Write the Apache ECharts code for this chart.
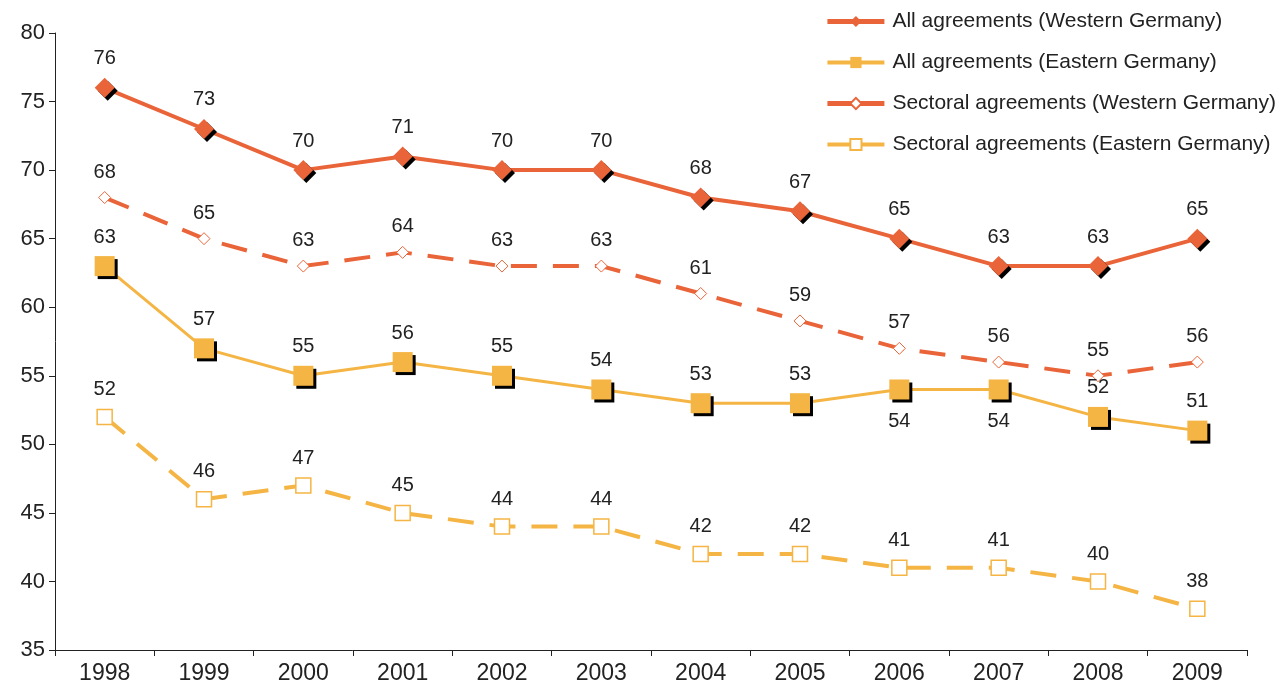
<!DOCTYPE html>
<html>
<head>
<meta charset="utf-8">
<script src="https://cdn.jsdelivr.net/npm/echarts@6/dist/echarts.min.js"></script>
<style>
  html, body { margin: 0; padding: 0; background: #fff; }
  #chart { width: 1287px; height: 691px; }
</style>
</head>
<body>
<div id="chart"></div>
<script>
// Collective agreement coverage, share of employees (%)
const years = ['1998', '1999', '2000', '2001', '2002', '2003', '2004', '2005', '2006', '2007', '2008', '2009'];
const allWest = [76, 73, 70, 71, 70, 70, 68, 67, 65, 63, 63, 65];
const allEast = [63, 57, 55, 56, 55, 54, 53, 53, 54, 54, 52, 51];
const sectWest = [68, 65, 63, 64, 63, 63, 61, 59, 57, 56, 55, 56];
const sectEast = [52, 46, 47, 45, 44, 44, 42, 42, 41, 41, 40, 38];
// years whose "All agreements (Eastern Germany)" label sits below the marker
const eastLabelBelow = ['2006', '2007'];

const ORANGE = '#EA6439';
const YELLOW = '#F5B544';
const FONT = 'Liberation Sans, Arial, sans-serif';

const labelBase = {
  show: true,
  position: 'top',
  distance: 9,
  fontSize: 20,
  fontFamily: FONT,
  color: '#222'
};
const markerShadow = { shadowColor: '#000', shadowBlur: 0, shadowOffsetX: 3, shadowOffsetY: 3 };

const chart = echarts.init(document.getElementById('chart'));
chart.setOption({
  animation: false,
  grid: { left: 55, right: 40, top: 33, bottom: 41 },
  legend: {
    orient: 'vertical',
    right: 6,
    top: 6,
    itemGap: 20,
    itemWidth: 57,
    itemHeight: 14,
    textStyle: { fontSize: 21, fontFamily: FONT, color: '#222', padding: [0, 0, 0, 3] },
    data: [
      { name: 'All agreements (Western Germany)', lineStyle: { width: 5 } },
      { name: 'All agreements (Eastern Germany)', lineStyle: { width: 4 } },
      { name: 'Sectoral agreements (Western Germany)', lineStyle: { width: 5, type: 'solid' } },
      { name: 'Sectoral agreements (Eastern Germany)', lineStyle: { width: 4, type: 'solid' } }
    ]
  },
  xAxis: {
    type: 'category',
    data: years,
    boundaryGap: true,
    axisLine: { lineStyle: { color: '#222', width: 1 } },
    axisTick: { show: true, alignWithLabel: false, length: 6, lineStyle: { color: '#222' } },
    axisLabel: { fontSize: 23, fontFamily: FONT, color: '#222', margin: 12 }
  },
  yAxis: {
    type: 'value',
    min: 35,
    max: 80,
    interval: 5,
    splitLine: { show: false },
    axisLine: { show: true, lineStyle: { color: '#222', width: 1 } },
    axisTick: { show: true, length: 6, lineStyle: { color: '#222' } },
    axisLabel: { fontSize: 22, fontFamily: FONT, color: '#222', margin: 10 }
  },
  series: [
    {
      name: 'Sectoral agreements (Eastern Germany)',
      type: 'line',
      data: sectEast,
      symbol: 'rect',
      symbolSize: 15,
      showAllSymbol: true,
      itemStyle: { color: '#fff', borderColor: YELLOW, borderWidth: 1.5 },
      lineStyle: { color: YELLOW, width: 4, type: [26, 16] },
      label: labelBase,
      z: 2
    },
    {
      name: 'Sectoral agreements (Western Germany)',
      type: 'line',
      data: sectWest,
      symbol: 'diamond',
      symbolSize: 12,
      showAllSymbol: true,
      itemStyle: { color: '#fff', borderColor: ORANGE, borderWidth: 1 },
      lineStyle: { color: ORANGE, width: 4, type: [26, 16] },
      label: labelBase,
      z: 2
    },
    {
      name: 'All agreements (Eastern Germany)',
      type: 'line',
      data: allEast.map((v, i) => ({
        value: v,
        label: eastLabelBelow.includes(years[i]) ? { position: 'bottom', distance: 12 } : {}
      })),
      symbol: 'rect',
      symbolSize: 20,
      showAllSymbol: true,
      itemStyle: Object.assign({ color: YELLOW }, markerShadow),
      lineStyle: { color: YELLOW, width: 3 },
      label: labelBase,
      z: 3
    },
    {
      name: 'All agreements (Western Germany)',
      type: 'line',
      data: allWest,
      symbol: 'diamond',
      symbolSize: 20,
      showAllSymbol: true,
      itemStyle: Object.assign({ color: ORANGE }, markerShadow),
      lineStyle: { color: ORANGE, width: 4 },
      label: labelBase,
      z: 4
    }
  ]
});
</script>
</body>
</html>
